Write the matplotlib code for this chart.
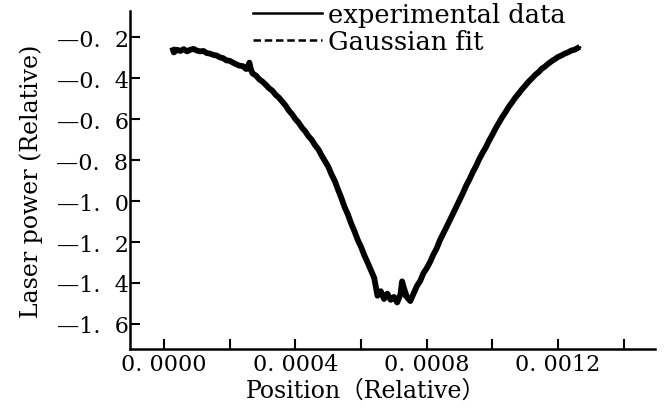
import matplotlib
matplotlib.use("Agg")
import matplotlib.pyplot as plt
from matplotlib.lines import Line2D
from matplotlib.ticker import FixedLocator, FixedFormatter

# experimental trace
exp_x = [
    0.000025, 0.00003, 0.00004, 0.00005, 0.00006, 0.00007, 0.00008, 0.00009,
    0.0001, 0.00011, 0.00012, 0.00013, 0.00014, 0.00015, 0.00016, 0.00017,
    0.00018, 0.00019, 0.0002, 0.00021, 0.00022, 0.00023, 0.00024, 0.00025,
    0.000255, 0.00026, 0.000265, 0.00027, 0.00028, 0.00029, 0.0003, 0.00031,
    0.00032, 0.00033, 0.00034, 0.00035, 0.00036, 0.00037, 0.00038, 0.00039,
    0.0004, 0.00041, 0.00042, 0.00043, 0.00044, 0.00045, 0.00046, 0.00047,
    0.00048, 0.00049, 0.0005, 0.00051, 0.00052, 0.00053, 0.00054, 0.00055,
    0.00056, 0.00057, 0.00058, 0.00059, 0.0006, 0.00061, 0.00062, 0.00063,
    0.00064, 0.00065, 0.00066, 0.00067, 0.00068, 0.00069, 0.0007, 0.00071,
    0.00072, 0.000725, 0.00073, 0.00074, 0.00075, 0.00076, 0.00077, 0.00078,
    0.00079, 0.0008, 0.00081, 0.00082, 0.00083, 0.00084, 0.00085, 0.00086,
    0.00087, 0.00088, 0.00089, 0.0009, 0.00091, 0.00092, 0.00093, 0.00094,
    0.00095, 0.00096, 0.00097, 0.00098, 0.00099, 0.001, 0.00101, 0.00102,
    0.00103, 0.00104, 0.00105, 0.00106, 0.00107, 0.00108, 0.00109, 0.0011,
    0.00111, 0.00112, 0.00113, 0.00114, 0.00115, 0.00116, 0.00117, 0.00118,
    0.00119, 0.0012, 0.00121, 0.00122, 0.00123, 0.00124, 0.00125, 0.001266,
]
exp_y = [
    -0.250, -0.275, -0.262, -0.268, -0.259, -0.270, -0.262, -0.258,
    -0.266, -0.270, -0.268, -0.278, -0.281, -0.287, -0.290, -0.299,
    -0.303, -0.314, -0.316, -0.325, -0.333, -0.340, -0.342, -0.356,
    -0.345, -0.325, -0.360, -0.378, -0.388, -0.406, -0.418, -0.433,
    -0.450, -0.462, -0.482, -0.496, -0.515, -0.534, -0.558, -0.577,
    -0.600, -0.618, -0.642, -0.660, -0.684, -0.702, -0.728, -0.748,
    -0.778, -0.805, -0.832, -0.870, -0.902, -0.945, -0.985, -1.030,
    -1.066, -1.110, -1.148, -1.190, -1.224, -1.265, -1.300, -1.338,
    -1.375, -1.462, -1.440, -1.478, -1.452, -1.482, -1.468, -1.495,
    -1.455, -1.392, -1.422, -1.470, -1.488, -1.452, -1.415, -1.390,
    -1.352, -1.328, -1.298, -1.262, -1.232, -1.192, -1.160, -1.128,
    -1.095, -1.062, -1.030, -0.995, -0.962, -0.925, -0.895, -0.860,
    -0.830, -0.795, -0.765, -0.738, -0.705, -0.676, -0.645, -0.618,
    -0.590, -0.566, -0.540, -0.518, -0.495, -0.476, -0.455, -0.437,
    -0.418, -0.402, -0.385, -0.372, -0.355, -0.344, -0.330, -0.318,
    -0.308, -0.297, -0.290, -0.281, -0.275, -0.266, -0.262, -0.248,
]

# gaussian fit
fit_x = [
    0.00003, 0.0001, 0.00015, 0.0002, 0.00025, 0.0003, 0.00035, 0.0004,
    0.00045, 0.0005, 0.00055, 0.0006, 0.00065, 0.0007, 0.00075, 0.0008,
    0.00085, 0.0009, 0.00095, 0.001, 0.00105, 0.0011, 0.00115, 0.0012,
    0.00127,
]
fit_y = [
    -0.262, -0.268, -0.287, -0.318, -0.356, -0.418, -0.496, -0.600,
    -0.702, -0.832, -1.030, -1.224, -1.440, -1.468, -1.465, -1.328,
    -1.160, -0.995, -0.830, -0.676, -0.540, -0.437, -0.355, -0.297,
    -0.248,
]

x_ticks = [0.0, 0.0002, 0.0004, 0.0006, 0.0008, 0.0010, 0.0012, 0.0014]
x_labels = ["0. 0000", "", "0. 0004", "", "0. 0008", "", "0. 0012", ""]
y_ticks = [-0.2, -0.4, -0.6, -0.8, -1.0, -1.2, -1.4, -1.6]
y_labels = ["\u20140.  2", "\u20140.  4", "\u20140.  6", "\u20140.  8",
            "\u20141.  0", "\u20141.  2", "\u20141.  4", "\u20141.  6"]

plt.rcParams["font.family"] = ["DejaVu Serif", "Noto Sans CJK SC"]

fig = plt.figure(figsize=(6.67, 4.10), dpi=100)
ax = fig.add_axes([130 / 667, 1 - 350 / 410, 525 / 667, 338 / 410])

ax.plot(fit_x, fit_y, color="black", lw=1.5, ls=(0, (3, 2)))
ax.plot(exp_x, exp_y, color="black", lw=4.2, solid_joinstyle="round",
        solid_capstyle="butt")

ax.set_xlim(-0.0001035, 0.001495)
ax.set_ylim(-1.722, -0.073)

ax.spines["top"].set_visible(False)
ax.spines["right"].set_visible(False)
ax.spines["left"].set_linewidth(1.8)
ax.spines["bottom"].set_linewidth(1.8)

ax.xaxis.set_major_locator(FixedLocator(x_ticks))
ax.xaxis.set_major_formatter(FixedFormatter(x_labels))
ax.yaxis.set_major_locator(FixedLocator(y_ticks))
ax.yaxis.set_major_formatter(FixedFormatter(y_labels))
ax.tick_params(axis="x", direction="in", length=7, width=1.5, pad=3, labelsize=16)
ax.tick_params(axis="y", direction="in", length=7, width=1.5, pad=1, labelsize=16)

ax.set_xlabel("Position\uff08Relative\uff09", fontsize=17, labelpad=0)
ax.xaxis.set_label_coords(0.45, -0.088)
ax.set_ylabel("Laser power (Relative)", fontsize=17, labelpad=10)

handles = [
    Line2D([], [], color="black", lw=1.8),
    Line2D([], [], color="black", lw=1.8, ls=(0, (3, 1.5))),
]
fig.legend(handles, ["experimental data", "Gaussian fit"],
           loc="upper left", bbox_to_anchor=(253 / 667, 1 - 3 / 410),
           frameon=False, fontsize=18.5, handlelength=2.68, handletextpad=0.22,
           labelspacing=0.08, borderpad=0, borderaxespad=0)

fig.savefig("out.png", dpi=100)
